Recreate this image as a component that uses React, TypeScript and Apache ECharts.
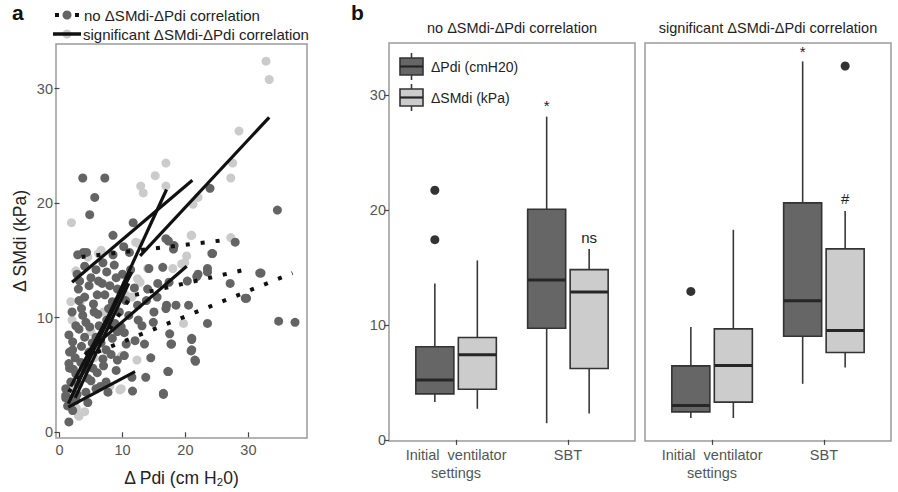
import React, { useEffect, useRef } from "react";
import * as echarts from "echarts";

const FONT = "'Liberation Sans', Arial, Helvetica, sans-serif";

// ---------- Panel a data ----------
const LIGHT_PTS: [number, number][] = [
  [32.8, 32.4], [33.3, 30.8], [28.5, 26.3], [27.5, 23.5], [27.2, 22.2], [16.9, 23.5], [15.2, 22.4],
  [16.9, 21.5], [12.9, 21.5], [13.3, 20.9], [21.2, 19.9], [22.0, 20.5], [27.2, 17.0], [21.0, 17.2],
  [1.9, 18.3], [6.6, 15.9], [12.5, 16.5], [20.2, 15.4], [3.3, 11.4], [19.9, 14.8], [19.7, 9.5],
  [12.3, 6.3], [9.6, 3.7], [3.0, 1.5], [2.7, 2.1], [9.8, 3.8], [3.1, 1.4], [12.1, 16.6], [18.0, 14.3],
  [2.6, 14.1], [4.5, 15.3], [14.0, 14.3], [12.4, 13.4], [1.8, 11.4], [20.9, 17.2], [6.2, 15.6],
  [12.8, 13.1], [9.9, 6.7], [19.4, 14.7], [10.5, 12.0], [7.0, 10.5], [5.0, 8.8], [2.2, 4.0], [8.0, 4.0],
  [4.0, 1.8], [8.2, 9.2], [5.5, 6.5], [2.0, 9.8], [11.5, 11.8],
];
const DARK_PTS: [number, number][] = [
  [3.7, 22.2], [7.2, 22.2], [5.6, 20.5], [23.9, 21.3], [4.8, 19.0], [11.7, 18.3], [8.5, 17.2],
  [34.6, 19.4], [27.9, 16.6], [17.3, 16.7], [18.1, 16.0], [24.3, 15.6], [3.8, 15.7], [4.3, 15.7],
  [16.9, 16.9], [18.2, 16.3], [2.9, 15.5], [6.9, 14.8], [8.7, 14.6], [11.1, 15.7], [11.3, 14.2],
  [7.5, 14.0], [14.2, 14.3], [16.4, 14.4], [6.2, 13.2], [4.7, 12.8], [14.0, 12.5], [15.6, 13.0],
  [17.4, 13.1], [9.2, 12.5], [11.9, 12.6], [3.1, 11.5], [5.4, 11.2], [8.4, 11.4], [12.4, 11.1],
  [16.9, 10.8], [18.5, 11.1], [3.7, 10.2], [6.1, 10.3],
  [23.5, 14.3], [23.5, 14.0], [21.8, 13.6], [20.3, 13.2], [32.0, 13.9], [27.1, 13.0], [29.5, 11.7],
  [20.5, 11.1], [23.5, 9.5], [34.8, 9.7], [37.4, 9.6], [21.0, 8.1], [20.9, 7.1], [21.6, 6.2],
  [13.1, 9.3], [10.3, 8.7], [13.5, 7.7], [17.7, 7.7], [10.3, 6.7], [17.2, 5.3], [13.7, 4.8],
  [11.6, 3.6], [16.5, 3.3], [9.0, 5.4], [7.7, 3.5], [4.5, 2.6], [1.5, 0.9], [2.6, 5.1], [1.6, 5.6],
  [1.6, 7.0], [2.1, 7.9], [3.1, 9.0], [4.2, 9.6], [5.8, 8.3], [6.9, 6.4], [7.4, 4.4], [9.2, 6.3],
  [1.0, 3.0], [1.3, 2.3], [1.0, 3.2],
  [2.6, 9.3], [4.0, 8.3], [2.1, 7.2], [3.4, 6.1], [1.8, 4.4], [1.0, 3.8], [4.5, 4.7], [5.8, 3.8],
  [5.3, 5.6], [7.4, 7.2], [8.4, 8.2], [10.6, 7.7], [9.2, 8.8], [4.7, 7.0], [6.3, 9.3], [2.6, 2.8],
  [2.1, 1.9],
  [11.5, 4.8], [16.5, 3.4], [17.3, 5.3], [21.0, 7.2], [21.0, 8.2], [21.5, 6.3], [17.5, 8.6],
  [17.8, 7.7], [14.9, 9.6], [17.0, 11.1], [22.0, 13.8], [24.2, 15.6], [29.7, 11.7], [31.8, 13.9],
  [2.0, 10.5], [3.0, 12.5], [5.0, 13.5], [6.0, 12.0], [7.5, 9.8], [8.0, 12.8], [9.5, 10.5],
  [10.0, 13.8], [2.5, 6.5], [3.5, 7.5], [4.5, 6.0], [6.0, 5.2], [5.5, 10.5], [8.8, 9.5], [12.5, 9.8],
  [10.5, 11.5], [1.5, 8.5], [2.8, 13.8], [4.0, 14.5], [15.5, 11.8],
  [1.5, 6.0], [2.2, 5.5], [3.0, 4.2], [3.8, 5.5], [4.2, 3.5], [5.0, 4.5], [6.5, 4.0], [7.0, 5.8],
  [8.2, 6.8], [3.5, 10.8], [4.8, 9.2], [5.2, 7.8], [6.6, 7.8], [7.8, 10.8], [9.0, 13.5], [6.8, 13.0],
  [5.8, 14.2], [3.2, 13.2], [8.5, 15.5], [10.2, 16.2], [9.8, 9.2], [11.0, 10.2], [12.0, 8.0],
  [13.8, 11.5], [15.0, 10.5], [14.5, 6.5], [2.8, 3.3], [1.8, 2.5], [4.0, 11.8], [7.2, 12.0],
];
// regression lines: [x1, y1, x2, y2]
const SOLID_LINES: number[][] = [
  [12.8, 15.4, 33.3, 27.5],
  [2.0, 13.1, 21.1, 22.0],
  [1.8, 3.0, 17.0, 21.2],
  [1.4, 2.5, 11.2, 13.8],
  [1.8, 4.0, 11.5, 14.0],
  [2.5, 3.0, 11.0, 13.0],
  [4.0, 6.8, 20.2, 14.5],
  [1.4, 2.2, 12.0, 5.3],
];
const DOTTED_LINES: number[][] = [
  [3.5, 15.3, 26.5, 16.8],
  [12.0, 12.0, 29.5, 14.2],
  [6.0, 7.0, 37.0, 13.9],
  [1.5, 3.5, 11.5, 12.0],
];
const A_TICKS = [0, 10, 20, 30];

// ---------- Panel b data ----------
const CATEGORIES = ["Initial  ventilator\nsettings", "SBT"];
const B_TICKS = [0, 10, 20, 30];
// [min, q1, median, q3, max] per category
const NOCORR_PDI = [[3.3, 4.0, 5.2, 8.1, 13.6], [1.45, 9.7, 13.9, 20.05, 28.1]];
const NOCORR_SMDI = [[2.7, 4.4, 7.4, 8.9, 15.6], [2.3, 6.2, 12.85, 14.8, 16.6]];
const SIG_PDI = [[1.9, 2.43, 2.98, 6.43, 9.8], [4.87, 9.0, 12.1, 20.6, 32.9]];
const SIG_SMDI = [[1.9, 3.28, 6.46, 9.65, 18.26], [6.3, 7.6, 9.5, 16.6, 19.9]];
// outliers: [category (1-based), value]
const NOCORR_PDI_OUT = [[1, 21.7], [1, 17.4]];
const SIG_PDI_OUT = [[1, 12.9]];
const SIG_SMDI_OUT = [[2, 32.5]];
// annotations: [category, group(0 Pdi / 1 SMdi), y]
const NOCORR_ANN = [[2, 0, 29.1], [2, 1, 17.6]];
const NOCORR_ANN_TEXT = ["*", "ns"];
const SIG_ANN = [[2, 0, 33.8], [2, 1, 21.0]];
const SIG_ANN_TEXT = ["*", "#"];

const DARK = "#646464";
const LIGHT = "#cbcbcb";
const BOX_DARK = "#666666";
const BOX_LIGHT = "#cccccc";
const DODGE = 0.19;
const HALF = 0.17;

function boxSeries(grid: number, stats: number[][], off: number, fill: string) {
  return {
    type: "custom",
    xAxisIndex: grid,
    yAxisIndex: grid,
    data: stats.map((s, i) => [i + 1 + off, ...s]),
    renderItem: (_p: any, api: any) => {
      const x = api.value(0);
      const lo = api.value(1), q1 = api.value(2), med = api.value(3), q3 = api.value(4), hi = api.value(5);
      const tl = api.coord([x - HALF, q3]);
      const br = api.coord([x + HALF, q1]);
      const ml = api.coord([x - HALF, med]);
      const mr = api.coord([x + HALF, med]);
      const pHi = api.coord([x, hi]);
      const pQ3 = api.coord([x, q3]);
      const pQ1 = api.coord([x, q1]);
      const pLo = api.coord([x, lo]);
      return {
        type: "group",
        children: [
          { type: "line", shape: { x1: pHi[0], y1: pHi[1], x2: pQ3[0], y2: pQ3[1] }, style: { stroke: "#3a3a3a", lineWidth: 1.6 } },
          { type: "line", shape: { x1: pQ1[0], y1: pQ1[1], x2: pLo[0], y2: pLo[1] }, style: { stroke: "#3a3a3a", lineWidth: 1.6 } },
          { type: "rect", shape: { x: tl[0], y: tl[1], width: br[0] - tl[0], height: br[1] - tl[1] }, style: { fill, stroke: "#333", lineWidth: 1.6 } },
          { type: "line", shape: { x1: ml[0], y1: ml[1], x2: mr[0], y2: mr[1] }, style: { stroke: "#262626", lineWidth: 3 } },
        ],
      };
    },
  };
}

function outlierSeries(grid: number, pts: number[][], off: number) {
  return {
    type: "scatter",
    xAxisIndex: grid,
    yAxisIndex: grid,
    symbolSize: 9,
    itemStyle: { color: "#333", opacity: 1 },
    data: pts.map((p) => [p[0] + off, p[1]]),
  };
}

function annSeries(grid: number, ann: number[][], texts: string[]) {
  return {
    type: "scatter",
    xAxisIndex: grid,
    yAxisIndex: grid,
    symbolSize: 1,
    z: 6,
    itemStyle: { color: "#ffffff", opacity: 0 },
    data: ann.map((a) => [a[0] + (a[1] === 0 ? -DODGE : DODGE), a[2]]),
    label: {
      show: true,
      position: "inside",
      formatter: (p: any) => texts[p.dataIndex],
      color: "#222",
      opacity: 1,
      textBorderWidth: 0,
      fontSize: 15,
      fontFamily: FONT,
    },
  };
}

function lineSeries(l: number[], dotted: boolean) {
  return {
    type: "line",
    xAxisIndex: 0,
    yAxisIndex: 0,
    symbol: "none",
    z: 5,
    data: [[l[0], l[1]], [l[2], l[3]]],
    lineStyle: dotted
      ? { color: "#111", width: 4, type: [4, 11], cap: "butt" }
      : { color: "#111", width: 3.2 },
  };
}

const tickStyle = { color: "#444", width: 1.2 };
const numLabel = { color: "#555", fontSize: 14.5, fontFamily: FONT, margin: 3 };

function buildOption(): any {
  const boxX = (grid: number) => ({
    gridIndex: grid,
    type: "value",
    min: 0.4,
    max: 2.6,
    splitLine: { show: false },
    axisLine: { show: false },
    axisTick: { show: true, length: 5, customValues: [1, 2], lineStyle: tickStyle },
    axisLabel: {
      customValues: [1, 2],
      formatter: (v: number) => CATEGORIES[Math.round(v) - 1],
      color: "#555",
      fontSize: 14.5,
      fontFamily: FONT,
      lineHeight: 18,
      margin: 5,
    },
  });
  const boxY = (grid: number, show: boolean) => ({
    gridIndex: grid,
    type: "value",
    min: -0.1,
    max: 34.5,
    splitLine: { show: false },
    axisLine: { show: false },
    axisTick: { show, length: 5, customValues: B_TICKS, lineStyle: tickStyle },
    axisLabel: { show, customValues: B_TICKS, ...numLabel },
  });

  const gridBase = { show: true, borderColor: "#9a9a9a", borderWidth: 1.5, backgroundColor: "transparent" };

  return {
    animation: false,
    backgroundColor: "#fff",
    textStyle: { fontFamily: FONT },
    grid: [
      { ...gridBase, left: 56, top: 44, width: 251, height: 397 },
      { ...gridBase, left: 389, top: 43, width: 246, height: 398 },
      { ...gridBase, left: 645, top: 43, width: 246, height: 398 },
    ],
    xAxis: [
      {
        gridIndex: 0,
        type: "value",
        min: -0.55,
        max: 39.3,
        splitLine: { show: false },
        axisLine: { show: false },
        axisTick: { show: true, length: 5, customValues: A_TICKS, lineStyle: tickStyle },
        axisLabel: { customValues: A_TICKS, ...numLabel, margin: 4 },
        name: "Δ Pdi (cm H₂0)",
        nameLocation: "middle",
        nameGap: 31,
        nameTextStyle: { fontSize: 17.5, color: "#222", fontFamily: FONT },
      },
      boxX(1),
      boxX(2),
    ],
    yAxis: [
      {
        gridIndex: 0,
        type: "value",
        min: -0.5,
        max: 33.9,
        splitLine: { show: false },
        axisLine: { show: false },
        axisTick: { show: true, length: 5, customValues: A_TICKS, lineStyle: tickStyle },
        axisLabel: { customValues: A_TICKS, ...numLabel },
        name: "Δ SMdi (kPa)",
        nameLocation: "middle",
        nameRotate: 90,
        nameGap: 27,
        nameTextStyle: { fontSize: 17.5, color: "#222", fontFamily: FONT },
      },
      boxY(1, true),
      boxY(2, false),
    ],
    series: [
      {
        type: "scatter",
        xAxisIndex: 0,
        yAxisIndex: 0,
        symbolSize: 9,
        itemStyle: { color: LIGHT, opacity: 1 },
        data: LIGHT_PTS,
      },
      {
        type: "scatter",
        xAxisIndex: 0,
        yAxisIndex: 0,
        symbolSize: 9,
        itemStyle: { color: DARK, opacity: 1 },
        data: DARK_PTS,
      },
      ...DOTTED_LINES.map((l) => lineSeries(l, true)),
      ...SOLID_LINES.map((l) => lineSeries(l, false)),
      boxSeries(1, NOCORR_PDI, -DODGE, BOX_DARK),
      boxSeries(1, NOCORR_SMDI, DODGE, BOX_LIGHT),
      boxSeries(2, SIG_PDI, -DODGE, BOX_DARK),
      boxSeries(2, SIG_SMDI, DODGE, BOX_LIGHT),
      outlierSeries(1, NOCORR_PDI_OUT, -DODGE),
      outlierSeries(2, SIG_PDI_OUT, -DODGE),
      outlierSeries(2, SIG_SMDI_OUT, DODGE),
      annSeries(1, NOCORR_ANN, NOCORR_ANN_TEXT),
      annSeries(2, SIG_ANN, SIG_ANN_TEXT),
    ],
    graphic: [
      // panel letters
      { type: "text", x: 12, y: 2, style: { text: "a", font: `bold 21px ${FONT}`, fill: "#111" } },
      { type: "text", x: 351, y: 2, style: { text: "b", font: `bold 21px ${FONT}`, fill: "#111" } },
      // panel a legend
      { type: "rect", shape: { x: 55, y: 13, width: 4, height: 4 }, style: { fill: "#111" } },
      { type: "circle", shape: { cx: 67, cy: 15, r: 4.5 }, style: { fill: DARK } },
      { type: "rect", shape: { x: 75, y: 13, width: 4, height: 4 }, style: { fill: "#111" } },
      { type: "text", x: 84, y: 15, style: { text: "no ΔSMdi-ΔPdi correlation", font: `15px ${FONT}`, fill: "#222", align: "left", verticalAlign: "middle" } },
      { type: "circle", shape: { cx: 67, cy: 34, r: 4.5 }, style: { fill: LIGHT } },
      { type: "line", shape: { x1: 53, y1: 34, x2: 81, y2: 34 }, style: { stroke: "#111", lineWidth: 3.5 } },
      { type: "text", x: 83, y: 34, style: { text: "significant ΔSMdi-ΔPdi correlation", font: `15px ${FONT}`, fill: "#222", align: "left", verticalAlign: "middle" } },
      // panel b titles
      { type: "text", x: 512, y: 28, style: { text: "no ΔSMdi-ΔPdi correlation", font: `14.5px ${FONT}`, fill: "#222", align: "center", verticalAlign: "middle" } },
      { type: "text", x: 768, y: 28, style: { text: "significant ΔSMdi-ΔPdi correlation", font: `14.5px ${FONT}`, fill: "#222", align: "center", verticalAlign: "middle" } },
      // panel b legend
      { type: "line", shape: { x1: 411.5, y1: 53, x2: 411.5, y2: 80 }, style: { stroke: "#3a3a3a", lineWidth: 1.6 } },
      { type: "rect", shape: { x: 400, y: 58, width: 23, height: 17 }, style: { fill: BOX_DARK, stroke: "#333", lineWidth: 1.6 } },
      { type: "line", shape: { x1: 400, y1: 66.5, x2: 423, y2: 66.5 }, style: { stroke: "#262626", lineWidth: 2.2 } },
      { type: "text", x: 431, y: 67, style: { text: "ΔPdi (cmH20)", font: `14px ${FONT}`, fill: "#222", align: "left", verticalAlign: "middle" } },
      { type: "line", shape: { x1: 411.5, y1: 84, x2: 411.5, y2: 111 }, style: { stroke: "#3a3a3a", lineWidth: 1.6 } },
      { type: "rect", shape: { x: 400, y: 89, width: 23, height: 17 }, style: { fill: BOX_LIGHT, stroke: "#333", lineWidth: 1.6 } },
      { type: "line", shape: { x1: 400, y1: 97.5, x2: 423, y2: 97.5 }, style: { stroke: "#262626", lineWidth: 2.2 } },
      { type: "text", x: 431, y: 98, style: { text: "ΔSMdi (kPa)", font: `14px ${FONT}`, fill: "#222", align: "left", verticalAlign: "middle" } },
    ],
  };
}

export default function App() {
  const ref = useRef<HTMLDivElement>(null);
  useEffect(() => {
    if (!ref.current) return;
    const chart = echarts.init(ref.current, null, { renderer: "svg" });
    chart.setOption(buildOption());
    return () => chart.dispose();
  }, []);
  return (
    <div
      ref={ref}
      style={{ position: "fixed", left: 0, top: 0, width: 898, height: 492, background: "#fff" }}
    />
  );
}
